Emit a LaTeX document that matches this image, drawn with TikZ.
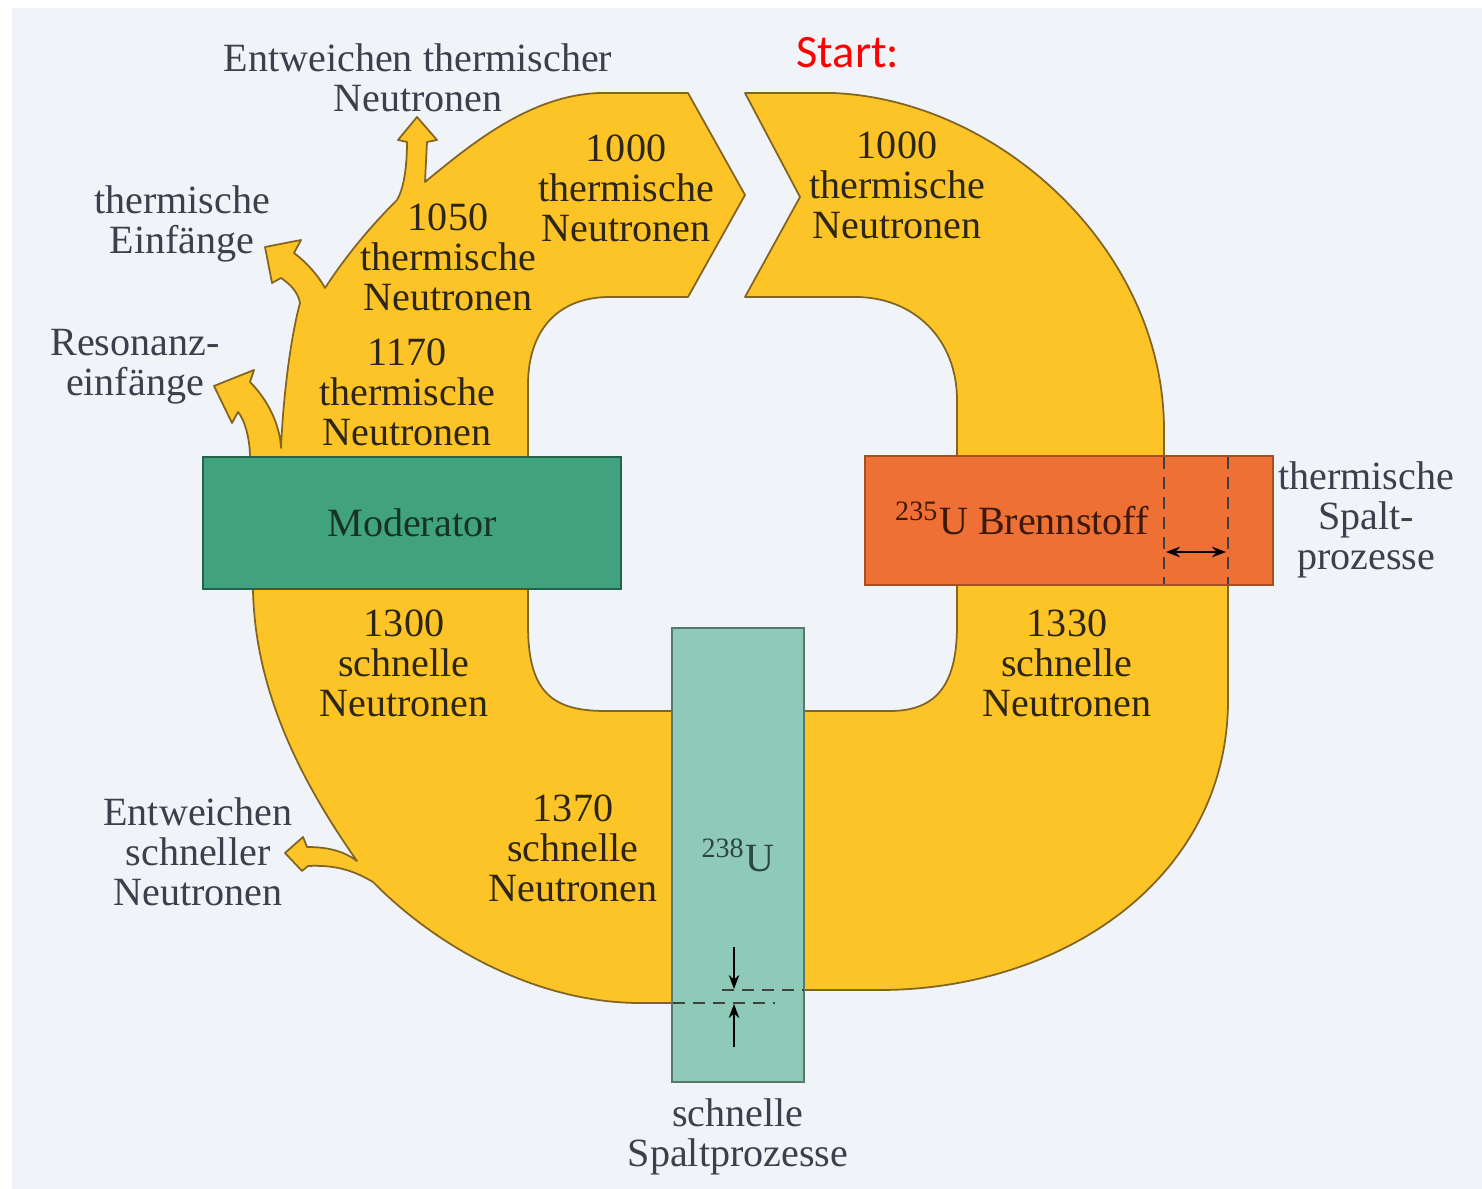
\documentclass[tikz,border=0pt]{standalone}
\usepackage{fontspec}
\setmainfont{Liberation Serif}
\newfontfamily\startfont{Carlito}
\usetikzlibrary{arrows.meta}

\definecolor{flowyellow}{RGB}{252,196,38}
\definecolor{flowedge}{RGB}{130,100,35}
\definecolor{modgreen}{RGB}{64,162,126}
\definecolor{fuelorange}{RGB}{238,112,52}
\definecolor{uteal}{RGB}{143,202,184}
\definecolor{paper}{RGB}{240,244,249}
\definecolor{labelgray}{RGB}{62,62,76}
\definecolor{numdark}{RGB}{45,38,22}

\begin{document}
\begin{tikzpicture}[x=0.01cm, y=-0.01cm,
    every node/.style={inner sep=0pt, align=center, font=\fontsize{11.4}{11.4}\selectfont},
    flow/.style={fill=flowyellow, draw=flowedge, line width=0.5pt, line join=round},
    count/.style={text=numdark},
    side/.style={text=labelgray},
    dimline/.style={line width=0.6pt, black!75, dash pattern=on 3.4pt off 2.3pt},
    dimarrow/.style={line width=0.5pt, black, -{Stealth[length=4pt, width=3pt]}}]
    % Draw background
    \fill[white] (0,0) rectangle (1482,1189);
    \fill[paper] (12,8) rectangle (1482,1189);
    \useasboundingbox (0,0) rectangle (1482,1189);

    % Draw the neutron flow band with its side arrows
    \draw[flow]
      (688,93) -- (745,195) -- (688,297) -- (610,297)
      .. controls (558,297) and (528,330) .. (528,385) -- (528,470)
      -- (528,580) -- (528,625)
      .. controls (528,690) and (550,711) .. (605,711) -- (790,711) -- (890,711)
      .. controls (940,711) and (957,680) .. (957,625) -- (957,400)
      .. controls (957,340) and (915,297) .. (855,297) -- (745,297)
      -- (800,197) -- (745,93) -- (833,93)
      .. controls (1000,100) and (1164,250) .. (1164,430) -- (1164,470)
      -- (1228,570) -- (1228,700)
      .. controls (1228,880) and (1060,990) .. (880,990) -- (790,990)
      -- (690,1003) -- (640,1003)
      .. controls (540,1003) and (440,950) .. (373,882)
      .. controls (350,868) and (330,865) .. (308,866) -- (302,871) -- (285,853) -- (303,837) -- (307,847)
      .. controls (330,847) and (345,852) .. (357,861)
      .. controls (300,780) and (255,690) .. (253,590) -- (253,575)
      -- (250,470) -- (250,457)
      .. controls (250,440) and (245,420) .. (238,412) -- (232,423) -- (214,386) -- (254,370) -- (250,382)
      .. controls (268,400) and (280,425) .. (281,448)
      .. controls (283,400) and (290,340) .. (300,303)
      .. controls (298,292) and (290,284) .. (281,278) -- (272,283) -- (265,247) -- (301,240) -- (294,253)
      .. controls (306,262) and (318,275) .. (325,288)
      .. controls (350,250) and (375,222) .. (397,200)
      .. controls (403,190) and (407,170) .. (407,142) -- (398,140) -- (417,117) -- (437,140) -- (427,142)
      -- (425,182)
      .. controls (470,145) and (530,95) .. (600,93) -- cycle;

    % Boxes
    \node[draw=modgreen!60!black, fill=modgreen, line width=0.6pt, minimum width=4.18cm, minimum height=1.32cm,
          text={rgb,255:red,25;green,50;blue,40}] (moderator) at (412,523) {Moderator};
    \node[draw=fuelorange!70!black, fill=fuelorange, line width=0.6pt, minimum width=4.08cm, minimum height=1.29cm] (fuel) at (1069,520.5) {};
    \node[text={rgb,255:red,60;green,25;blue,10}] (fueltext) at (1022,518) {\textsuperscript{235}U Brennstoff};
    \node[draw=uteal!60!black, fill=uteal, line width=0.6pt, minimum width=1.32cm, minimum height=4.54cm,
          text={rgb,255:red,45;green,70;blue,68}] (uranium) at (738,855) {\textsuperscript{238}U};

    % Dashed marks and widths
    \foreach \x in {1164,1228} \draw[dimline] (\x,457) -- (\x,584);
    \coordinate (wl) at (1166,552);
    \coordinate (wr) at (1226,552);
    \draw[dimarrow, {Stealth[length=4pt, width=3pt]}-{Stealth[length=4pt, width=3pt]}] (wl) -- (wr);
    \draw[dimline] (722,990) -- (804,990);
    \draw[dimline] (673,1003) -- (775,1003);
    \coordinate (ut) at (734,947);
    \coordinate (ub) at (734,1047);
    \draw[dimarrow] (ut) -- (734,989);
    \draw[dimarrow] (ub) -- (734,1004);

    % Neutron counts
    \node[count] (n1000a) at (626,188) {1000\\thermische\\Neutronen};
    \node[count] (n1000b) at (897,185) {1000\\thermische\\Neutronen};
    \node[count] (n1050) at (448,257) {1050\\thermische\\Neutronen};
    \node[count] (n1170) at (407,392) {1170\\thermische\\Neutronen};
    \node[count] (n1300) at (404,663) {1300\\schnelle\\Neutronen};
    \node[count] (n1330) at (1067,663) {1330\\schnelle\\Neutronen};
    \node[count] (n1370) at (573,848) {1370\\schnelle\\Neutronen};

    % Side labels
    \node[side] (escth) at (418,78) {Entweichen thermischer\\Neutronen};
    \node[side] (capth) at (182,224) {thermische\\Einfänge};
    \node[side] (capres) at (135,367) {Resonanz-\\einfänge};
    \node[side] (escfast) at (198,852) {Entweichen\\schneller\\Neutronen};
    \node[side] (fissth) at (1366,520) {thermische\\Spalt-\\prozesse};
    \node[side] (fissfast) at (738,1137) {schnelle\\Spaltprozesse};
    \node[text=red, font=\startfont\fontsize{13.2}{13.2}\selectfont] (start) at (848,53) {Start:};
\end{tikzpicture}
\end{document}
